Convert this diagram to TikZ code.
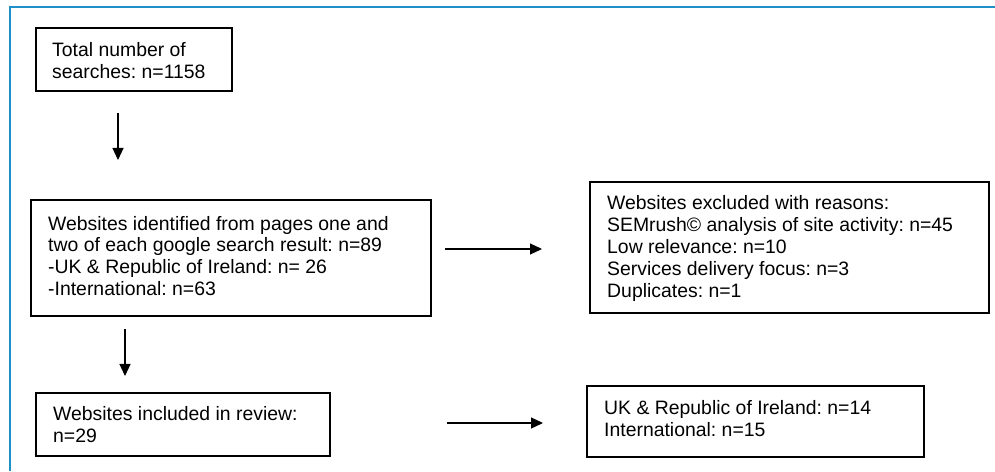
\documentclass[tikz,border=0pt]{standalone}
\usepackage{fontspec}
\setmainfont{Liberation Sans}
\usetikzlibrary{arrows.meta}
\definecolor{frameblue}{RGB}{30,144,200}
\frenchspacing
\tikzset{
  boxnode/.style={draw=black, line width=1.8pt, rectangle, inner sep=0pt, anchor=north west},
  txt/.style={anchor=west, align=left, inner sep=0pt, font=\frenchspacing\fontsize{19.4}{21.8}\selectfont},
  flow/.style={draw=black, line width=1.2pt, -{Triangle[length=12pt,width=11pt]}}
}
\begin{document}
\begin{tikzpicture}[x=1pt,y=1pt]
\useasboundingbox (0,0) rectangle (995,471);
\draw[frameblue, line width=2.5pt] (10,0) -- (10,464) -- (995,464);

\node[boxnode, minimum width=196pt, minimum height=63pt] (b1) at (35,444) {};
\node[txt] (t1) at ([xshift=17pt,yshift=-1pt]b1.west) {Total number of\\searches: n=1158};

\node[boxnode, minimum width=400pt, minimum height=116pt] (b2) at (30,272) {};
\node[txt] (t2) at ([xshift=18pt,yshift=2pt]b2.west) {Websites identified from pages one and\\two of each google search result: n=89\\-UK \& Republic of Ireland: n= 26\\-International: n=63};

\node[boxnode, minimum width=399pt, minimum height=131pt] (b3) at (589,290) {};
\node[txt] (t3) at ([xshift=18pt,yshift=-1pt]b3.west) {Websites excluded with reasons:\\SEMrush© analysis of site activity: n=45\\Low relevance: n=10\\Services delivery focus: n=3\\Duplicates: n=1};

\node[boxnode, minimum width=294pt, minimum height=63pt] (b4) at (35,79) {};
\node[txt] (t4) at ([xshift=18pt,yshift=0pt]b4.west) {Websites included in review:\\n=29};

\node[boxnode, minimum width=337pt, minimum height=71pt] (b5) at (586,86) {};
\node[txt] (t5) at ([xshift=18pt,yshift=3pt]b5.west) {UK \& Republic of Ireland: n=14\\International: n=15};

\coordinate (a1s) at (118,358);
\coordinate (a1e) at (118,311);
\coordinate (a2s) at (445,222);
\coordinate (a2e) at (542,222);
\coordinate (a3s) at (125,142);
\coordinate (a3e) at (125,95);
\coordinate (a4s) at (447,48);
\coordinate (a4e) at (543,48);
\draw[flow] (a1s) -- (a1e);
\draw[flow] (a2s) -- (a2e);
\draw[flow] (a3s) -- (a3e);
\draw[flow] (a4s) -- (a4e);
\end{tikzpicture}
\end{document}
